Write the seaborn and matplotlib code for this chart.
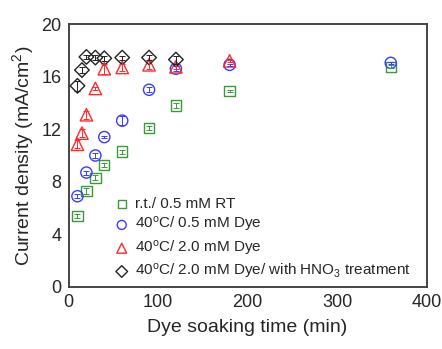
import matplotlib
matplotlib.use("Agg")
import matplotlib.pyplot as plt
from matplotlib.ticker import MultipleLocator
import seaborn as sns
import pandas as pd

# soaking time (min) and current density (mA/cm2)
rt_time = [10, 20, 30, 40, 60, 90, 120, 180, 360]
rt_j = [5.4, 7.3, 8.3, 9.3, 10.3, 12.1, 13.8, 14.9, 16.75]
rt_err = [0.15, 0.2, 0.2, 0.15, 0.15, 0.15, 0.2, 0.1, 0.1]

dye05_time = [10, 20, 30, 40, 60, 90, 120, 180, 360]
dye05_j = [6.9, 8.7, 10.0, 11.4, 12.65, 15.0, 16.6, 16.9, 17.05]
dye05_err = [0.15, 0.15, 0.2, 0.1, 0.35, 0.2, 0.2, 0.1, 0.1]

dye20_time = [10, 15, 20, 30, 40, 60, 90, 120, 180]
dye20_j = [10.85, 11.7, 13.1, 15.1, 16.6, 16.7, 16.9, 16.75, 17.2]
dye20_err = [0.3, 0.3, 0.3, 0.1, 0.4, 0.3, 0.3, 0.2, 0.1]

hno3_time = [10, 15, 20, 30, 40, 60, 90, 120]
hno3_j = [15.3, 16.5, 17.5, 17.45, 17.4, 17.45, 17.45, 17.3]
hno3_err = [0.4, 0.2, 0.15, 0.2, 0.2, 0.15, 0.2, 0.3]

labels = [
    "r.t./ 0.5 mM RT",
    r"40$^{\rm o}$C/ 0.5 mM Dye",
    r"40$^{\rm o}$C/ 2.0 mM Dye",
    r"40$^{\rm o}$C/ 2.0 mM Dye/ with HNO$_3$ treatment",
]

sns.set_style("white")
plt.rcParams["font.family"] = ["Liberation Sans", "DejaVu Sans"]
plt.rcParams["mathtext.fontset"] = "custom"
plt.rcParams["mathtext.rm"] = "Liberation Sans"
plt.rcParams["mathtext.it"] = "Liberation Sans:italic"

fig = plt.figure(figsize=(4.42, 3.49), dpi=100)
ax = fig.add_axes([0.155, 0.178, 0.81, 0.753])

series = [
    (rt_time, rt_j, rt_err, "s", "#3a9a3a", 55),
    (dye05_time, dye05_j, dye05_err, "o", "#3a3aff", 65),
    (dye20_time, dye20_j, dye20_err, "^", "#ff2a2a", 80),
    (hno3_time, hno3_j, hno3_err, "D", "#222222", 55),
]

for (t, j, e, m, c, s), lab in zip(series, labels):
    ax.errorbar(t, j, yerr=e, fmt="none", ecolor=c, elinewidth=0.7, capsize=2, capthick=0.7)
    df = pd.DataFrame({"time": t, "j": j})
    sns.scatterplot(data=df, x="time", y="j", marker=m, s=s, color=c,
                    facecolor="none", edgecolor=c, linewidth=1.0, label=lab, ax=ax)

ax.set_xlim(0, 400)
ax.set_ylim(0, 20)
ax.xaxis.set_major_locator(MultipleLocator(100))
ax.xaxis.set_minor_locator(MultipleLocator(50))
ax.yaxis.set_major_locator(MultipleLocator(4))
ax.yaxis.set_minor_locator(MultipleLocator(2))
ax.tick_params(which="both", direction="in", top=False, right=False, labelsize=13, pad=5)
ax.tick_params(which="major", length=4, width=1)
ax.tick_params(which="minor", length=2.5, width=1)
for sp in ax.spines.values():
    sp.set_color("#444444")
    sp.set_linewidth(1.4)

ax.set_xlabel("Dye soaking time (min)", fontsize=14, labelpad=6)
ax.set_ylabel("Current density (mA/cm$^2$)", fontsize=14, labelpad=4)

ax.legend(loc="upper left", bbox_to_anchor=(0.106, 0.365), frameon=False, fontsize=11,
          handletextpad=0.3, labelspacing=0.28, borderaxespad=0, handlelength=1.2,
          markerscale=0.8)

fig.savefig("out.png", dpi=100)
